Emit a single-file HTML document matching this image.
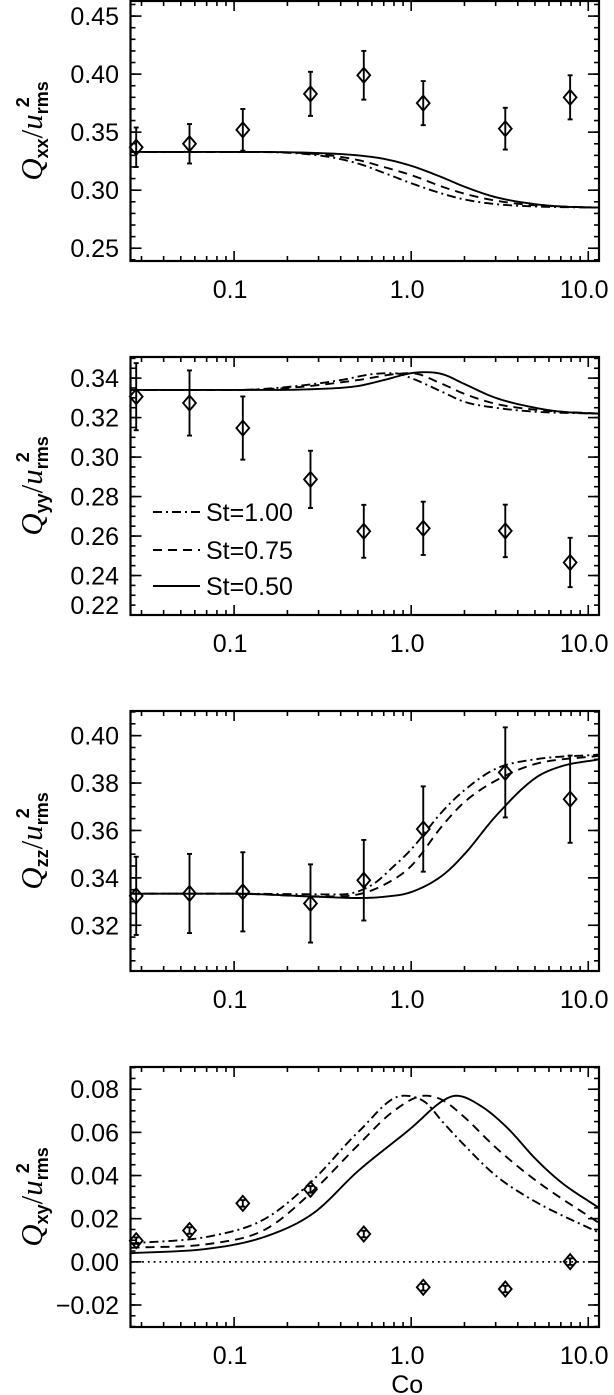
<!DOCTYPE html>
<html><head><meta charset="utf-8">
<style>
html,body{margin:0;padding:0;background:#fff;}
svg{display:block;font-family:"Liberation Sans",sans-serif;}
</style></head>
<body>
<svg id="chart" width="614" height="1395" viewBox="0 0 614 1395" xmlns="http://www.w3.org/2000/svg"></svg>
<script>
// ---- data ----
const coData = [0.028, 0.056, 0.112, 0.27, 0.54, 1.17, 3.4, 7.9];
const xxVals = [0.337, 0.340, 0.352, 0.383, 0.399, 0.375, 0.353, 0.380];
const xxErrs = [0.017, 0.017, 0.018, 0.019, 0.021, 0.019, 0.018, 0.019];
const yyVals = [0.3306, 0.3274, 0.3147, 0.2887, 0.2624, 0.2639, 0.2626, 0.2466];
const yyErrs = [0.017, 0.0165, 0.016, 0.0145, 0.0134, 0.0135, 0.0133, 0.0125];
const zzVals = [0.3324, 0.3334, 0.3341, 0.3292, 0.339, 0.3606, 0.3845, 0.3732];
const zzErrs = [0.0165, 0.0167, 0.0167, 0.0165, 0.017, 0.018, 0.019, 0.0184];
const xyVals = [0.0098, 0.0145, 0.0271, 0.0336, 0.0129, -0.0118, -0.0126, 0.0001];
const xyErrs = [0.0015, 0.0015, 0.0015, 0.0015, 0.0015, 0.0015, 0.0015, 0.0015];

// theory curves (St=0.50 solid, 0.75 dashed, 1.00 dash-dot)
const xxSolidCo = [0.026,0.1,0.3,0.5,0.7,1,1.5,2,3,5,7,11.5];
const xxSolid   = [0.333,0.333,0.332,0.330,0.327,0.321,0.311,0.303,0.294,0.288,0.286,0.285];
const xxDashCo  = [0.026,0.1,0.3,0.5,0.7,1,1.5,2,3,5,7,11.5];
const xxDash    = [0.333,0.333,0.331,0.326,0.320,0.313,0.303,0.297,0.291,0.287,0.286,0.285];
const xxDotCo   = [0.026,0.1,0.3,0.5,0.7,1,1.5,2,3,5,11.5];
const xxDot     = [0.333,0.333,0.330,0.323,0.315,0.306,0.297,0.292,0.288,0.286,0.285];

const yySolidCo = [0.026,0.1,0.3,0.5,0.7,1,1.2,1.5,2,3,5,7,11.5];
const yySolid   = [0.334,0.334,0.3345,0.336,0.339,0.3425,0.343,0.342,0.337,0.330,0.325,0.323,0.322];
const yyDashCo  = [0.026,0.1,0.2,0.5,0.8,1,1.5,2,3,5,11.5];
const yyDash    = [0.334,0.334,0.335,0.339,0.342,0.3425,0.337,0.332,0.327,0.324,0.322];
const yyDotCo   = [0.026,0.1,0.2,0.4,0.6,0.8,1,1.5,2,3,5,11.5];
const yyDot     = [0.334,0.334,0.3355,0.339,0.342,0.3425,0.340,0.333,0.328,0.325,0.323,0.322];

const zzSolidCo = [0.026,0.1,0.3,0.5,0.7,1,1.5,2,3,5,7,11.5];
const zzSolid   = [0.3333,0.3333,0.332,0.3315,0.332,0.334,0.341,0.350,0.366,0.382,0.387,0.390];
const zzDashCo  = [0.026,0.1,0.3,0.5,0.7,1,1.5,2,3,5,11.5];
const zzDash    = [0.3333,0.3333,0.3322,0.333,0.337,0.345,0.362,0.372,0.381,0.388,0.3915];
const zzDotCo   = [0.026,0.1,0.4,0.6,0.8,1,1.5,2,3,5,11.5];
const zzDot     = [0.3333,0.3333,0.333,0.337,0.345,0.352,0.368,0.377,0.386,0.390,0.392];

const xySolidCo = [0.026,0.075,0.15,0.28,0.5,1,1.5,1.8,2.5,3.5,5,7,11.5];
const xySolid   = [0.0040,0.0063,0.0117,0.0225,0.042,0.062,0.0745,0.077,0.072,0.062,0.048,0.037,0.025];
const xyDashCo  = [0.026,0.075,0.15,0.28,0.5,0.8,1.2,1.5,2,3,5,11.5];
const xyDash    = [0.0065,0.0085,0.015,0.033,0.054,0.070,0.077,0.075,0.067,0.053,0.038,0.018];
const xyDotCo   = [0.026,0.075,0.15,0.28,0.5,0.9,1.2,1.5,2,3,5,11.5];
const xyDot     = [0.0085,0.012,0.020,0.038,0.060,0.077,0.074,0.065,0.054,0.040,0.028,0.0135];

const xTickVals = [0.1, 1, 10];
const xTickLabels = ["0.1", "1.0", "10.0"];
const xxTicks = [0.25,0.30,0.35,0.40,0.45];
const yyTicks = [0.22,0.24,0.26,0.28,0.30,0.32,0.34];
const zzTicks = [0.32,0.34,0.36,0.38,0.40];
const xyTicks = [-0.02,0.00,0.02,0.04,0.06,0.08];
const legendLabels = ["St=1.00","St=0.75","St=0.50"];

// ---- layout ----
const NS = "http://www.w3.org/2000/svg";
const svg = document.getElementById('chart');
const X0 = 130.5, X1 = 599, XMIN = 0.026, XMAX = 11.5;
function xs(v){ return X0 + (Math.log10(v)-Math.log10(XMIN))/(Math.log10(XMAX)-Math.log10(XMIN))*(X1-X0); }
function mk(tag, attrs, parent){ const e=document.createElementNS(NS,tag); for(const k in attrs) e.setAttribute(k,attrs[k]); (parent||svg).appendChild(e); return e; }

function monotone(px, py, n){
  const m=px.length, d=[], s=[];
  for(let i=0;i<m-1;i++) d.push((py[i+1]-py[i])/(px[i+1]-px[i]));
  for(let i=0;i<m;i++){
    if(i===0) s.push(d[0]); else if(i===m-1) s.push(d[m-2]);
    else s.push(d[i-1]*d[i]<=0?0:(d[i-1]+d[i])/2);
  }
  const pts=[];
  for(let i=0;i<m-1;i++){
    const h=px[i+1]-px[i];
    for(let k=0;k<n;k++){
      const t=k/n, t2=t*t, t3=t2*t;
      const y=(2*t3-3*t2+1)*py[i]+(t3-2*t2+t)*h*s[i]+(-2*t3+3*t2)*py[i+1]+(t3-t2)*h*s[i+1];
      pts.push([px[i]+t*h, y]);
    }
  }
  pts.push([px[m-1],py[m-1]]);
  return pts;
}

const panels = [
  {id:'xx', top:1, bot:261, ymin:0.239, ymax:0.463, ticks:xxTicks, minor:0.01, dec:2, vals:xxVals, errs:xxErrs,
   curves:[[xxSolidCo,xxSolid,''],[xxDashCo,xxDash,'9,6'],[xxDotCo,xxDot,'9,4,2,4']], sub:'xx'},
  {id:'yy', top:357, bot:615, ymin:0.22, ymax:0.3507, ticks:yyTicks, minor:0.005, dec:2, vals:yyVals, errs:yyErrs,
   curves:[[yySolidCo,yySolid,''],[yyDashCo,yyDash,'9,6'],[yyDotCo,yyDot,'9,4,2,4']], sub:'yy', legend:true},
  {id:'zz', top:711, bot:971, ymin:0.3007, ymax:0.4104, ticks:zzTicks, minor:0.005, dec:2, vals:zzVals, errs:zzErrs,
   curves:[[zzSolidCo,zzSolid,''],[zzDashCo,zzDash,'9,6'],[zzDotCo,zzDot,'9,4,2,4']], sub:'zz'},
  {id:'xy', top:1067, bot:1327, ymin:-0.0302, ymax:0.0903, ticks:xyTicks, minor:0.005, dec:2, vals:xyVals, errs:xyErrs,
   curves:[[xySolidCo,xySolid,''],[xyDashCo,xyDash,'9,6'],[xyDotCo,xyDot,'9,4,2,4']], sub:'xy', zero:true, xtitle:true}
];

panels.forEach(p=>{
  const g = mk('g',{});
  
  
  const ys = v => p.bot - (v-p.ymin)/(p.ymax-p.ymin)*(p.bot-p.top);
  const clipId='clip-'+p.id;
  const cp = mk('clipPath',{id:clipId},g); mk('rect',{x:X0,y:p.top,width:X1-X0,height:p.bot-p.top},cp);

  for(let dec=-2; dec<=1; dec++){
    for(let k=1;k<=9;k++){
      const v=k*Math.pow(10,dec);
      if(v<XMIN||v>XMAX) continue;
      const x=xs(v), L=(k===1)?10:5;
      const t1=mk('line',{x1:x,x2:x,y1:p.bot,y2:p.bot-L,stroke:'#000','stroke-width':1.6},g);
      
      
      const t2=mk('line',{x1:x,x2:x,y1:p.top,y2:p.top+L,stroke:'#000','stroke-width':1.6},g);
      
      
    }
  }
  xTickVals.forEach((v,i)=>{
    const t=mk('text',{x:xs(v)-4,y:p.bot+37,'text-anchor':'middle','font-size':25},g);
    t.textContent=xTickLabels[i];
    
    
  });
  const nMin=Math.ceil(p.ymin/p.minor-1e-6), nMax=Math.floor(p.ymax/p.minor+1e-6);
  for(let n=nMin;n<=nMax;n++){
    const y=ys(n*p.minor);
    mk('line',{x1:X0,x2:X0+5,y1:y,y2:y,stroke:'#000','stroke-width':1.6},g);
    mk('line',{x1:X1,x2:X1-5,y1:y,y2:y,stroke:'#000','stroke-width':1.6},g);
  }
  p.ticks.forEach(v=>{
    const y=ys(v);
    const a=mk('line',{x1:X0,x2:X0+11,y1:y,y2:y,stroke:'#000','stroke-width':1.6},g);
    
    
    mk('line',{x1:X1,x2:X1-11,y1:y,y2:y,stroke:'#000','stroke-width':1.6},g);
    let ty=y+9;
    if(ty>p.bot+4) ty=p.bot-1;
    const t=mk('text',{x:119,y:ty,'text-anchor':'end','font-size':25},g);
    t.textContent=(v<0?'\u2212':'')+Math.abs(v).toFixed(p.dec);
    
    
  });
  const fr=mk('rect',{x:X0,y:p.top,width:X1-X0,height:p.bot-p.top,fill:'none',stroke:'#000','stroke-width':2.2},g);
  
  

  const yt=mk('text',{transform:`translate(42,${(p.top+p.bot)/2}) rotate(-90)`,'text-anchor':'middle','font-size':31,'font-family':'"Liberation Serif",serif'},g);
  
  
  yt.innerHTML=`<tspan font-style="italic">Q</tspan><tspan font-size="18" dy="6" font-weight="bold" font-family="Liberation Sans">${p.sub}</tspan><tspan dy="-6">/</tspan><tspan font-style="italic">u</tspan><tspan font-size="18" dy="6" font-weight="bold" font-family="Liberation Sans">rms</tspan><tspan font-size="18" dx="-26" dy="-19" font-weight="bold" font-family="Liberation Sans">2</tspan>`;

  if(p.zero){
    const z=mk('line',{x1:X0,x2:X1,y1:ys(0),y2:ys(0),stroke:'#000','stroke-width':1.8,'stroke-dasharray':'1.8,4'},g);
    
    
  }
  const names=['curve-st-0.50','curve-st-0.75','curve-st-1.00'];
  p.curves.forEach((c,ci)=>{
    const lx=c[0].map(v=>Math.log10(v));
    const pts=monotone(lx,c[1],12);
    const d=pts.map((q,i)=>(i?'L':'M')+xs(Math.pow(10,q[0])).toFixed(2)+','+ys(q[1]).toFixed(2)).join(' ');
    const path=mk('path',{d:d,fill:'none',stroke:'#000','stroke-width':1.9,'clip-path':`url(#${clipId})`},g);
    if(c[2]) path.setAttribute('stroke-dasharray',c[2]);
    
    
  });
  coData.forEach((co,i)=>{
    const x=xs(co), y=ys(p.vals[i]), e=p.errs[i];
    const pg=mk('g',{},g);
    
    
    const y1=ys(p.vals[i]+e), y2=ys(p.vals[i]-e);
    mk('line',{x1:x,x2:x,y1:y1,y2:y2,stroke:'#000','stroke-width':1.9},pg);
    mk('line',{x1:x-2.5,x2:x+2.5,y1:y1,y2:y1,stroke:'#000','stroke-width':1.9},pg);
    mk('line',{x1:x-2.5,x2:x+2.5,y1:y2,y2:y2,stroke:'#000','stroke-width':1.9},pg);
    const r=7.5;
    mk('path',{d:`M${x},${y-r} L${x+r*0.85},${y} L${x},${y+r} L${x-r*0.85},${y} Z`,fill:'none',stroke:'#000','stroke-width':1.9},pg);
  });
  if(p.legend){
    const dashes=['9,4,2,4','9,6',''];
    const rows=[512,550,586];
    legendLabels.forEach((lab,i)=>{
      const lg=mk('g',{},g);
      
      
      const l=mk('line',{x1:153,x2:200,y1:rows[i],y2:rows[i],stroke:'#000','stroke-width':1.9},lg);
      if(dashes[i]) l.setAttribute('stroke-dasharray',dashes[i]);
      const t=mk('text',{x:206,y:rows[i]+9,'font-size':25},lg);
      t.textContent=lab;
    });
  }
  if(p.xtitle){
    const t=mk('text',{x:xs(1)-4,y:1393,'text-anchor':'middle','font-size':25},g);
    t.textContent='Co';
    
    
  }
});
</script>
</body></html>
